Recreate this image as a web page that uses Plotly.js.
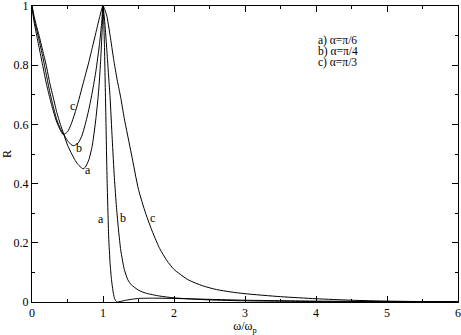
<!DOCTYPE html>
<html>
<head>
<meta charset="utf-8">
<script src="https://cdn.plot.ly/plotly-3.0.1.min.js"></script>
<style>
  body { margin: 0; background: #fff; }
  #chart { width: 461px; height: 335px; }
  #chart text { font-family: "Liberation Serif", serif !important; }
</style>
</head>
<body>
<div id="chart"></div>
<script>
// reflectivity curves
const xA = [0, 0.03, 0.06, 0.1, 0.15, 0.2, 0.25, 0.3, 0.35, 0.4, 0.45, 0.5, 0.55, 0.6, 0.65, 0.7, 0.72, 0.75, 0.8, 0.85, 0.9, 0.93, 0.95, 0.97, 0.99, 1.0,
  1.01, 1.02, 1.03, 1.04, 1.05, 1.06, 1.07, 1.08, 1.1, 1.12, 1.14, 1.16, 1.18, 1.2, 1.25, 1.3, 1.4, 1.5, 1.7, 2.0, 2.5, 3, 4, 5, 6];
const rA = [1, 0.965, 0.935, 0.9, 0.85, 0.8, 0.74, 0.69, 0.64, 0.6, 0.565, 0.53, 0.505, 0.482, 0.464, 0.453, 0.45, 0.455, 0.48, 0.53, 0.62, 0.69, 0.75, 0.83, 0.93, 1,
  0.95, 0.87, 0.75, 0.63, 0.5, 0.39, 0.3, 0.22, 0.13, 0.075, 0.038, 0.014, 0.003, 0, 0.002, 0.005, 0.009, 0.012, 0.013, 0.012, 0.009, 0.006, 0.003, 0.0015, 0.001];

const xB = [0, 0.03, 0.06, 0.1, 0.15, 0.2, 0.25, 0.3, 0.35, 0.4, 0.45, 0.5, 0.55, 0.58, 0.6, 0.65, 0.7, 0.75, 0.8, 0.85, 0.9, 0.95, 0.98, 1.0,
  1.03, 1.06, 1.08, 1.1, 1.13, 1.16, 1.19, 1.22, 1.25, 1.3, 1.35, 1.4, 1.5, 1.6, 1.8, 2.0, 2.5, 3, 4, 5, 6];
const rB = [1, 0.955, 0.925, 0.885, 0.83, 0.77, 0.71, 0.66, 0.615, 0.585, 0.565, 0.545, 0.532, 0.528, 0.529, 0.537, 0.56, 0.6, 0.65, 0.71, 0.78, 0.87, 0.94, 1,
  0.93, 0.83, 0.76, 0.69, 0.55, 0.42, 0.32, 0.24, 0.175, 0.11, 0.075, 0.058, 0.04, 0.03, 0.02, 0.014, 0.007, 0.004, 0.0015, 0.0007, 0.0004];

const xC = [0, 0.02, 0.05, 0.1, 0.15, 0.2, 0.25, 0.3, 0.35, 0.4, 0.44, 0.5, 0.55, 0.6, 0.65, 0.7, 0.75, 0.8, 0.85, 0.9, 0.95, 1.0,
  1.05, 1.1, 1.15, 1.2, 1.25, 1.3, 1.4, 1.5, 1.6, 1.7, 1.8, 1.9, 2.0, 2.2, 2.4, 2.6, 2.8, 3.0, 3.5, 4, 4.5, 5, 5.5, 6];
const rC = [1, 0.96, 0.92, 0.86, 0.8, 0.74, 0.69, 0.645, 0.607, 0.58, 0.566, 0.575, 0.6, 0.635, 0.675, 0.72, 0.765, 0.81, 0.86, 0.91, 0.96, 1,
  0.97, 0.9, 0.82, 0.75, 0.69, 0.62, 0.5, 0.38, 0.3, 0.235, 0.18, 0.14, 0.11, 0.075, 0.055, 0.042, 0.034, 0.028, 0.018, 0.011, 0.006, 0.003, 0.0015, 0.001];

const legendLines = ["a) α=π/6", "b) α=π/4", "c) α=π/3"];
const legendY = [0.882, 0.845, 0.808];
const curveLabels = ["c", "b", "a", "a", "b", "c"];
const labelX = [0.577, 0.662, 0.789, 0.972, 1.282, 1.704];
const labelY = [0.661, 0.52, 0.446, 0.281, 0.284, 0.284];

const font = "Liberation Serif";

function curve(x, y) {
  return {
    x: x, y: y, type: "scatter", mode: "lines",
    line: { color: "#000", width: 1, shape: "spline", smoothing: 0.6 },
    hoverinfo: "skip", showlegend: false
  };
}

const traces = [curve(xA, rA), curve(xB, rB), curve(xC, rC)];

const annotations = curveLabels.map((t, i) => ({
  x: labelX[i], y: labelY[i], xref: "x", yref: "y",
  text: t, showarrow: false, font: { family: font, size: 12, color: "#000" }
}));

legendLines.forEach((t, i) => {
  annotations.push({
    x: 4.0, y: legendY[i], xref: "x", yref: "y", xanchor: "left", yanchor: "middle",
    text: t, showarrow: false, font: { family: font, size: 11.5, color: "#000" }
  });
});

const axisCommon = {
  showline: true, linecolor: "#000", linewidth: 1, mirror: "ticks",
  ticks: "inside", ticklen: 6, tickcolor: "#000", tickwidth: 1,
  showgrid: false, zeroline: false, ticklabeloverflow: "allow",
  tickfont: { family: font, size: 12, color: "#000" }
};

const layout = {
  width: 461, height: 335,
  margin: { l: 32, r: 3, t: 6, b: 33 },
  paper_bgcolor: "#fff", plot_bgcolor: "#fff",
  font: { family: font, size: 12, color: "#000" },
  xaxis: Object.assign({}, axisCommon, {
    range: [0, 6], dtick: 1, tick0: 0,
    minor: { dtick: 0.5, ticks: "inside", ticklen: 3, tickcolor: "#000" },
    title: { text: "ω/ω<sub>p</sub>", font: { family: font, size: 12, color: "#000" }, standoff: 0 }
  }),
  yaxis: Object.assign({}, axisCommon, {
    range: [0, 1], dtick: 0.2, tick0: 0,
    minor: { dtick: 0.1, ticks: "inside", ticklen: 3, tickcolor: "#000" },
    title: { text: "R", font: { family: font, size: 12, color: "#000" }, standoff: 4 }
  }),
  annotations: annotations
};

Plotly.newPlot("chart", traces, layout, { displayModeBar: false, staticPlot: true });
</script>
</body>
</html>
